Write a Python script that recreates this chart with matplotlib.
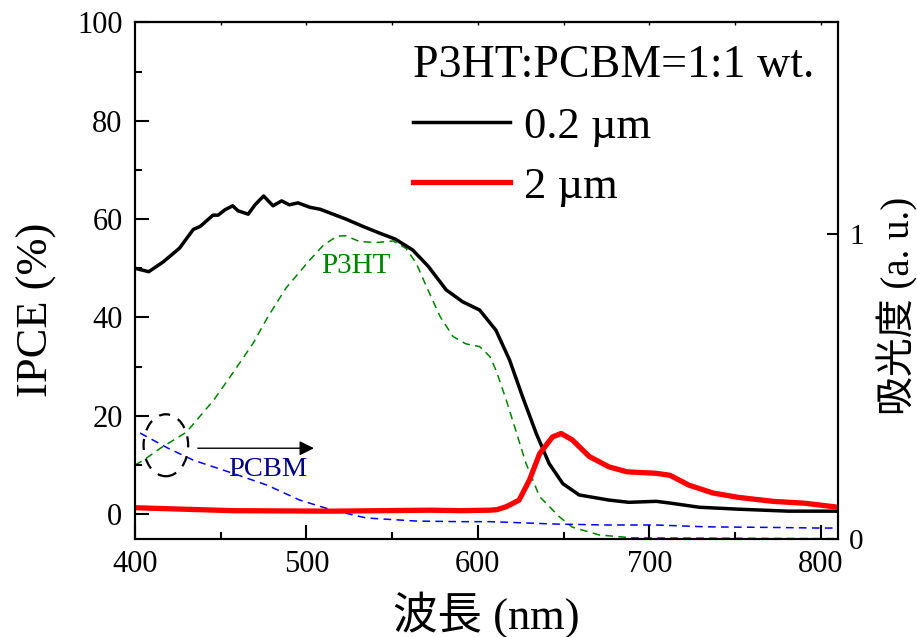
import matplotlib
matplotlib.use("Agg")
import matplotlib.pyplot as plt
from matplotlib.patches import Ellipse

plt.rcParams['font.family'] = ['Liberation Serif', 'Noto Sans CJK JP']

# IPCE, 0.2 um film
black_wl = [400, 408, 416.5, 426, 434, 438, 445.5, 448.5, 452.5, 457, 460, 466, 470, 475, 480.5,
            485.5, 490, 495, 502, 508, 514, 523, 533, 543, 552, 562, 571, 581.5, 591, 601,
            610.5, 618.5, 626, 634, 641.5, 649.5, 659, 676.5, 688, 704, 713, 729, 752, 781, 810]
black_ipce = [50.0, 49.3, 51.3, 54.1, 57.9, 58.5, 60.8, 60.8, 61.9, 62.7, 61.7, 61.0, 62.9, 64.7,
              62.7, 63.7, 62.9, 63.3, 62.4, 62.0, 61.2, 60.0, 58.5, 57.1, 55.9, 53.7, 50.4, 45.6,
              43.2, 41.5, 37.4, 31.3, 23.9, 16.4, 10.3, 6.2, 3.9, 2.85, 2.4, 2.6, 2.2, 1.4, 1.0,
              0.6, 0.6]

# IPCE, 2 um film
red_wl = [400, 457, 515, 572, 590, 607, 611, 616.5, 624, 630, 636, 643.5, 648.5, 655, 665,
          676.5, 687, 704, 712, 723, 737, 752, 772, 791, 810]
red_ipce = [1.3, 0.7, 0.6, 0.8, 0.7, 0.8, 0.9, 1.5, 2.85, 6.9, 12.3, 15.7, 16.4, 15.1, 11.7,
            9.6, 8.6, 8.3, 7.9, 5.9, 4.3, 3.4, 2.6, 2.2, 1.4]

# absorbance (right axis)
p3ht_wl = [400, 405, 415, 430, 446, 457, 469, 477, 488, 502, 510, 518, 523, 531, 541, 550.5,
           558, 564, 570, 578, 585.5, 593, 601, 607, 610.5, 616.5, 622, 628, 636, 647.5, 655,
           671, 690, 810]
p3ht_abs = [0.242, 0.258, 0.298, 0.35, 0.456, 0.544, 0.643, 0.724, 0.823, 0.916, 0.965, 0.994,
            0.995, 0.976, 0.973, 0.978, 0.954, 0.905, 0.828, 0.729, 0.664, 0.64, 0.631, 0.598,
            0.554, 0.456, 0.357, 0.248, 0.138, 0.072, 0.038, 0.012, 0.003, 0.0]
pcbm_wl = [403, 419, 434, 457, 477, 496, 515, 535, 564, 589, 607, 646, 675, 704, 733, 772, 799, 810]
pcbm_abs = [0.347, 0.298, 0.258, 0.215, 0.176, 0.127, 0.094, 0.068, 0.058, 0.056, 0.056, 0.048,
            0.045, 0.045, 0.039, 0.037, 0.035, 0.035]

fig = plt.figure(figsize=(9.17, 6.37), dpi=100)
ax = fig.add_axes([135 / 917, 1 - 538.7 / 637, 703 / 917, 516.3 / 637])
ax2 = ax.twinx()

ax2.plot(p3ht_wl, p3ht_abs, color='#008000', lw=1.1, ls=(0, (5, 3.5)))
ax2.plot(pcbm_wl, pcbm_abs, color='#0000ff', lw=1.1, ls=(0, (5, 3.5)))
l1, = ax.plot(black_wl, black_ipce, color='black', lw=2.5, label='0.2 µm',
              solid_joinstyle='round')
l2, = ax.plot(red_wl, red_ipce, color='#ff0000', lw=3.8, label='2 µm',
              solid_joinstyle='round')
ax.set_zorder(ax2.get_zorder() + 1)
ax.patch.set_visible(False)

ax.set_xlim(400, 810)
ax.set_ylim(-5, 100)
ax2.set_ylim(0, 1.696)

ax.set_xticks([400, 500, 600, 700, 800])
ax.set_xticks([450, 550, 650, 750], minor=True)
ax.set_yticks([0, 20, 40, 60, 80, 100])
ax.set_yticks([10, 30, 50, 70, 90], minor=True)
ax.tick_params(which='both', direction='in', width=1.5, labelsize=22, top=False, right=False)
ax.tick_params(which='major', length=10)
ax.tick_params(which='minor', length=5)
ax.tick_params(axis='y', pad=9)
ax.tick_params(axis='x', pad=8)

ax2.set_yticks([0, 1])
ax2.set_yticklabels(['0', '1'])
ax2.tick_params(direction='in', length=8, width=1.5, labelsize=21, pad=8)

top = ax.secondary_xaxis('top')
top.set_xticks([450, 500, 550, 600, 650, 700, 750, 800])
top.tick_params(direction='in', length=2, width=1, labeltop=False)

for a in (ax, ax2):
    for s in a.spines.values():
        s.set_linewidth(1.5)
top.spines['top'].set_linewidth(1.5)

ax.set_xlabel('波長 (nm)', fontsize=32, labelpad=9)
ax.set_ylabel('IPCE (%)', fontsize=32)
ax.yaxis.set_label_coords(-0.111, 0.443)
ax2.set_ylabel('吸光度 (a. u.)', fontsize=28)
ax2.yaxis.set_label_coords(1.056, 0.45)

ax2.text(529, 0.896, 'P3HT', color='#008000', fontsize=21, ha='center', va='center')
ax.text(477.5, 9.0, 'PCBM', color='#000080', fontsize=20.5, ha='center', va='center')

ax.add_patch(Ellipse((418, 14), 26, 12.6, fill=False, ec='black', lw=1.6, ls=(0, (5, 4))))
ax.annotate('', xy=(506, 13.4), xytext=(435, 13.4),
            arrowprops=dict(arrowstyle='-|>', color='black', lw=1, mutation_scale=22))

leg = ax.legend(handles=[l1, l2], title='P3HT:PCBM=1:1 wt.', loc='upper right',
                bbox_to_anchor=(1.01, 1.017), frameon=False, fontsize=32,
                title_fontsize=33, handlelength=2.2, handletextpad=0.3,
                labelspacing=0.44, alignment='left', borderaxespad=0.3)

fig.savefig('out.png', dpi=100)
